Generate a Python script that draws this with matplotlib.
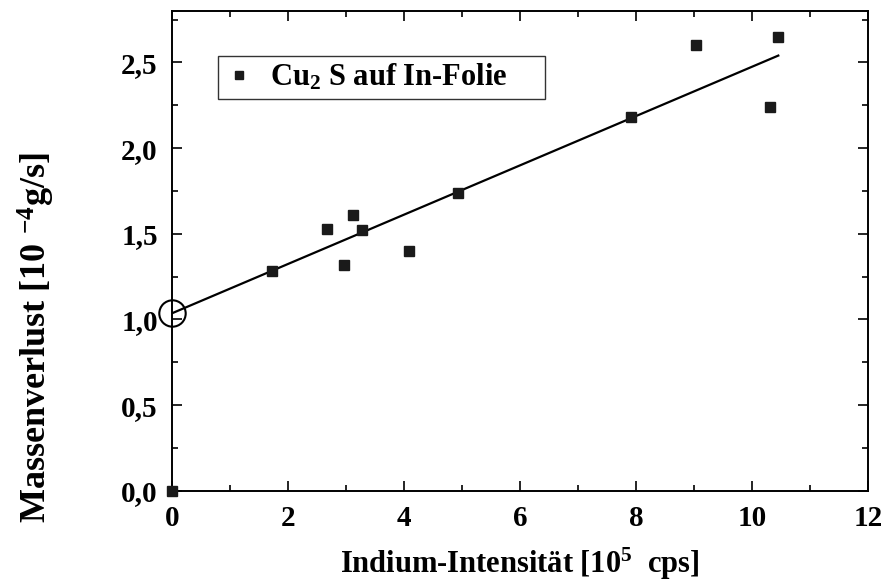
import numpy as np
import matplotlib
matplotlib.use('Agg')
import matplotlib.pyplot as plt
from matplotlib.ticker import MultipleLocator, FuncFormatter

plt.rcParams['font.family'] = 'Liberation Serif'
plt.rcParams['font.weight'] = 'bold'
plt.rcParams['mathtext.fontset'] = 'custom'
plt.rcParams['mathtext.rm'] = 'Liberation Serif:bold'
plt.rcParams['mathtext.default'] = 'rm'

# Cu2S auf In-Folie: Indium-Intensitaet (1e5 cps) vs. Massenverlust (1e-4 g/s)
intensity = [0.0, 1.72, 2.67, 2.97, 3.13, 3.27, 4.08, 4.93, 7.92, 9.04, 10.31, 10.44]
massloss = [0.0, 1.28, 1.53, 1.32, 1.61, 1.52, 1.40, 1.74, 2.18, 2.60, 2.24, 2.65]

# fitted line and its intercept
fit_x = [0.0, 10.45]
fit_y = [1.035, 2.54]

fig = plt.figure(figsize=(8.92, 5.81), dpi=100)
ax = fig.add_axes([0.1925, 0.1554, 0.7809, 0.8256])

ax.plot(fit_x, fit_y, color='black', lw=1.6, zorder=2)
ax.plot(intensity, massloss, 's', color='#1a1a1a', ms=6.5, zorder=3,
        clip_on=False, label='Cu$_2$ S auf In-Folie     ')
ax.plot([fit_x[0]], [fit_y[0]], 'o', mfc='none', mec='black', ms=19,
        mew=1.5, clip_on=False, zorder=4)

ax.set_xlim(0, 12)
ax.set_ylim(0, 2.8)
ax.xaxis.set_major_locator(MultipleLocator(2))
ax.xaxis.set_minor_locator(MultipleLocator(1))
ax.yaxis.set_major_locator(MultipleLocator(0.5))
ax.yaxis.set_minor_locator(MultipleLocator(0.25))
ax.yaxis.set_major_formatter(FuncFormatter(lambda v, p: f'{v:.1f}'.replace('.', ',')))

ax.tick_params(which='both', direction='in', top=True, right=True, width=1.2)
ax.tick_params(which='major', length=7, labelsize=21, pad=10)
ax.tick_params(which='minor', length=4)
for s in ax.spines.values():
    s.set_linewidth(1.4)

ax.set_xlabel('Indium-Intensität [10$^5$  cps]', fontsize=22, fontweight='bold')
ax.xaxis.set_label_coords(0.5, -0.115)
ax.set_ylabel('Massenverlust [10 $^{-4}$g/s]', fontsize=26, fontweight='bold')
ax.yaxis.set_label_coords(-0.165, 0.32)

leg = ax.legend(loc='upper left', bbox_to_anchor=(0.0665, 0.906), fontsize=22,
                frameon=True, fancybox=False, edgecolor='black', handletextpad=0.5,
                borderpad=0.2, markerscale=0.9, handlelength=1.0,
                borderaxespad=0.0)
leg.get_frame().set_linewidth(1.0)
for t in leg.get_texts():
    t.set_fontweight('bold')

fig.savefig('out.png', dpi=100)
